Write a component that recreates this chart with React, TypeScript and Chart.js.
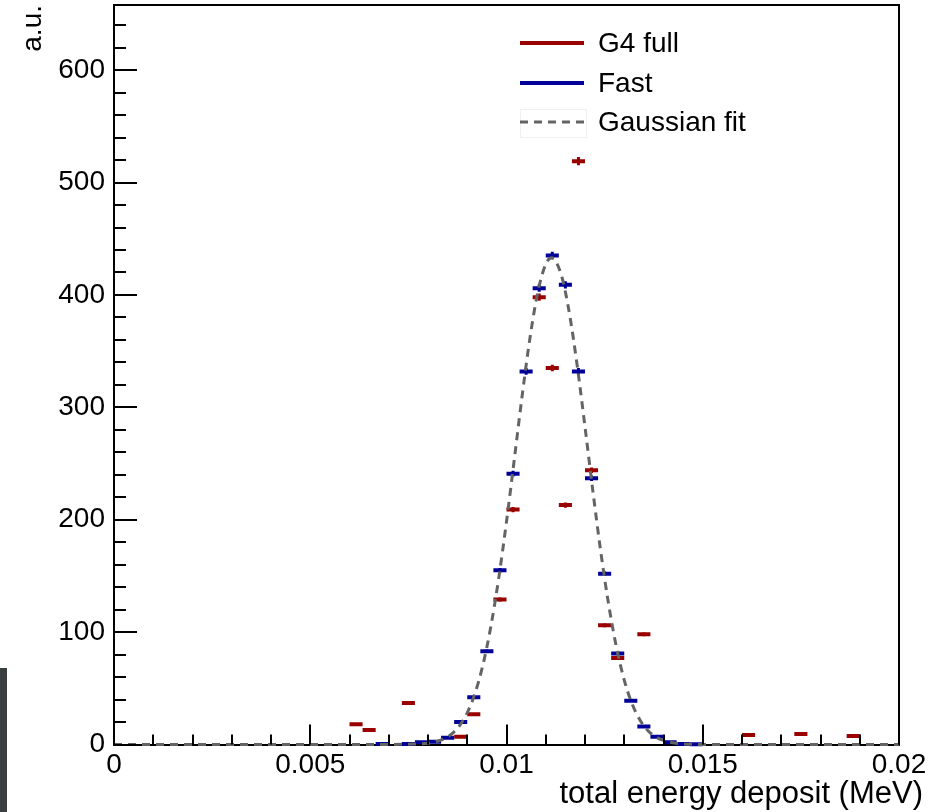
import React, { useEffect, useRef } from 'react';
import { Chart, registerables } from 'chart.js';

Chart.register(...registerables);

// ---- axes ----
const X_MIN = 0;
const X_MAX = 0.02;
const N_BINS = 60;
const Y_MIN = 0;
const Y_MAX = 658;
const X_TICK_LABELS = ['0', '0.005', '0.01', '0.015', '0.02'];
const Y_TICK_LABELS = ['0', '100', '200', '300', '400', '500', '600'];
const X_TITLE = 'total energy deposit (MeV)';
const Y_TITLE = 'a.u.';

// ---- series (bin index -> content) ----
const G4_LABEL = 'G4 full';
const G4_BINS = [18, 19, 22, 26, 27, 29, 30, 32, 33, 34, 35, 36, 37, 38, 40, 48, 52, 56];
const G4_VALUES = [18, 13, 37, 7, 27, 129, 209, 398, 335, 213, 519, 244, 106, 77, 98, 8.5, 9.4, 7.6];

const FAST_LABEL = 'Fast';
const FAST_BINS = [20, 22, 23, 24, 25, 26, 27, 28, 29, 30, 31, 32, 33, 34, 35, 36, 37, 38, 39, 40, 41, 42, 43, 44];
const FAST_VALUES = [0.4, 0.4, 2, 2.5, 6, 20, 42, 83, 155, 241, 332, 406, 435, 409, 332, 237, 152, 81, 39, 16, 7, 2, 0.5, 0.3];

// ---- fitted curve ----
const GAUSS_LABEL = 'Gaussian fit';
const GAUSS_X = [0, 0.007, 0.0076, 0.008, 0.0082, 0.0084, 0.0086, 0.0088, 0.009, 0.0092, 0.0094, 0.0096, 0.0098, 0.01, 0.0102, 0.0104, 0.0106, 0.0108, 0.011, 0.01115, 0.0114, 0.0116, 0.0118, 0.012, 0.0122, 0.0124, 0.0126, 0.0128, 0.013, 0.0132, 0.0134, 0.0136, 0.0138, 0.014, 0.0142, 0.0144, 0.0148, 0.0155, 0.02];
const GAUSS_Y = [0, 0.05, 0.4, 1.2, 2.5, 5.0, 9.3, 16.6, 28.2, 45.8, 70.9, 104.7, 147.6, 198.3, 254.0, 310.6, 362.2, 402.8, 427.3, 433, 417.3, 384.2, 337.4, 282.6, 225.7, 172.0, 125.1, 86.7, 57.3, 36.2, 21.8, 12.5, 6.8, 3.6, 1.8, 0.8, 0.15, 0.02, 0];

const RED = 'rgb(153,0,0)';
const BLUE = 'rgb(0,0,153)';
const GRAY = 'rgb(100,100,100)';
const FONT_FAMILY = "'Liberation Sans', Arial, Helvetica, sans-serif";
const FONT_SIZE = 28;
const TITLE_FONT_SIZE = 31;

const binWidth = (X_MAX - X_MIN) / N_BINS;
const toPoints = (bins: number[], vals: number[]) =>
  bins.map((b, i) => ({ x: X_MIN + (b + 0.5) * binWidth, y: vals[i] }));

const halfBinPx = (ctx: any) => {
  const xs = ctx.chart.scales.x;
  if (!xs) return 6.5;
  return Math.abs(xs.getPixelForValue(binWidth) - xs.getPixelForValue(0)) / 2;
};
const errPx = (ctx: any) => {
  const ys = ctx.chart.scales.y;
  const v = ctx.raw ? ctx.raw.y : 0;
  if (!ys || v <= 0) return 0;
  const err = 0.16 * Math.sqrt(v);
  return Math.abs(ys.getPixelForValue(0) - ys.getPixelForValue(err));
};

const decorPlugin = {
  id: 'decor',
  afterDraw(chart: any) {
    const { ctx, chartArea: a, scales } = chart;
    const xs = scales.x;
    const ys = scales.y;
    ctx.save();
    ctx.strokeStyle = '#000';
    ctx.lineWidth = 2;
    // frame
    ctx.beginPath();
    ctx.moveTo(a.left, a.top);
    ctx.lineTo(a.right, a.top);
    ctx.lineTo(a.right, a.bottom);
    ctx.stroke();
    // inner ticks x
    ctx.beginPath();
    for (let k = 0; k <= 20; k++) {
      const px = Math.round(xs.getPixelForValue(X_MIN + k * 0.001));
      const len = k % 5 === 0 ? 20 : 10;
      ctx.moveTo(px, a.bottom);
      ctx.lineTo(px, a.bottom - len);
    }
    // inner ticks y
    for (let k = 0; k * 20 <= Y_MAX; k++) {
      const py = Math.round(ys.getPixelForValue(k * 20));
      const len = k % 5 === 0 ? 23 : 12;
      ctx.moveTo(a.left, py);
      ctx.lineTo(a.left + len, py);
    }
    ctx.stroke();

    // titles
    ctx.fillStyle = '#000';
    ctx.font = `${TITLE_FONT_SIZE}px ${FONT_FAMILY}`;
    ctx.textAlign = 'right';
    ctx.textBaseline = 'alphabetic';
    ctx.fillText(X_TITLE, 923, 803);
    ctx.font = `${FONT_SIZE}px ${FONT_FAMILY}`;
    ctx.save();
    ctx.translate(41, a.top);
    ctx.rotate(-Math.PI / 2);
    ctx.textAlign = 'right';
    ctx.fillText(Y_TITLE, 0, 0);
    ctx.restore();

    // legend
    const entries = [
      { label: G4_LABEL, color: RED, dash: [] as number[], y: 43 },
      { label: FAST_LABEL, color: BLUE, dash: [] as number[], y: 83 },
      { label: GAUSS_LABEL, color: GRAY, dash: [8, 6], y: 122 },
    ];
    ctx.strokeStyle = 'rgba(0,0,0,0.06)';
    ctx.lineWidth = 1;
    ctx.strokeRect(520.5, 109.5, 66, 28);
    entries.forEach((e) => {
      ctx.beginPath();
      ctx.strokeStyle = e.color;
      ctx.lineWidth = e.dash.length ? 3 : 4;
      ctx.setLineDash(e.dash);
      ctx.moveTo(520, e.y);
      ctx.lineTo(584, e.y);
      ctx.stroke();
      ctx.setLineDash([]);
      ctx.fillStyle = '#000';
      ctx.textAlign = 'left';
      ctx.textBaseline = 'middle';
      ctx.fillText(e.label, 598, e.y + 1);
    });
    ctx.restore();
  },
};

export default function App() {
  const ref = useRef<HTMLCanvasElement | null>(null);
  useEffect(() => {
    if (!ref.current) return;
    const g4 = toPoints(G4_BINS, G4_VALUES);
    const fast = toPoints(FAST_BINS, FAST_VALUES);
    const gauss = GAUSS_X.map((x, i) => ({ x, y: GAUSS_Y[i] }));
    const font = { family: FONT_FAMILY, size: FONT_SIZE };
    const chart = new Chart(ref.current, {
      type: 'scatter',
      data: {
        datasets: [
          {
            label: GAUSS_LABEL,
            data: gauss,
            showLine: true,
            borderColor: GRAY,
            borderWidth: 3,
            borderDash: [8, 6],
            pointRadius: 0,
            cubicInterpolationMode: 'monotone',
            clip: false,
          } as any,
          {
            label: FAST_LABEL,
            data: fast,
            pointStyle: 'line',
            rotation: 0,
            pointRadius: halfBinPx,
            borderColor: BLUE,
            backgroundColor: BLUE,
            borderWidth: 4,
            clip: 6,
          } as any,
          {
            label: FAST_LABEL + ' err',
            data: fast,
            pointStyle: 'line',
            rotation: 90,
            pointRadius: errPx,
            borderColor: BLUE,
            backgroundColor: BLUE,
            borderWidth: 3,
            clip: 6,
          } as any,
          {
            label: G4_LABEL,
            data: g4,
            pointStyle: 'line',
            rotation: 0,
            pointRadius: halfBinPx,
            borderColor: RED,
            backgroundColor: RED,
            borderWidth: 4,
            clip: 6,
          } as any,
          {
            label: G4_LABEL + ' err',
            data: g4,
            pointStyle: 'line',
            rotation: 90,
            pointRadius: errPx,
            borderColor: RED,
            backgroundColor: RED,
            borderWidth: 3,
            clip: 6,
          } as any,
        ],
      },
      options: {
        animation: false,
        responsive: false,
        maintainAspectRatio: false,
        events: [],
        layout: { padding: { left: 0, right: 46, top: 5, bottom: 0 } },
        plugins: { legend: { display: false }, tooltip: { enabled: false }, title: { display: false } },
        scales: {
          x: {
            type: 'linear',
            min: X_MIN,
            max: X_MAX,
            grid: { display: false, drawTicks: false },
            border: { display: true, color: '#000', width: 2 },
            ticks: {
              stepSize: 0.005,
              includeBounds: false,
              autoSkip: false,
              maxRotation: 0,
              padding: 4,
              color: '#000',
              font,
              callback: (_v: any, i: number) => X_TICK_LABELS[i],
            },
            afterFit: (s: any) => {
              s.height = 67.5;
              s.paddingLeft = 0;
              s.paddingRight = 0;
            },
          },
          y: {
            type: 'linear',
            min: Y_MIN,
            max: Y_MAX,
            grid: { display: false, drawTicks: false },
            border: { display: true, color: '#000', width: 2 },
            ticks: {
              stepSize: 100,
              includeBounds: false,
              autoSkip: false,
              padding: 9,
              color: '#000',
              font,
              callback: (_v: any, i: number) => Y_TICK_LABELS[i],
            },
            afterFit: (s: any) => {
              s.width = 114;
              s.paddingTop = 0;
              s.paddingBottom = 0;
            },
          },
        },
      } as any,
      plugins: [decorPlugin],
    });
    return () => chart.destroy();
  }, []);

  return (
    <div style={{ position: 'absolute', left: 0, top: 0, width: 945, height: 812, background: '#fff' }}>
      <canvas ref={ref} width={945} height={812} style={{ display: 'block', width: 945, height: 812 }} />
      <div style={{ position: 'absolute', left: 0, top: 668, width: 7, height: 144, background: '#3a3e3e' }} />
    </div>
  );
}
